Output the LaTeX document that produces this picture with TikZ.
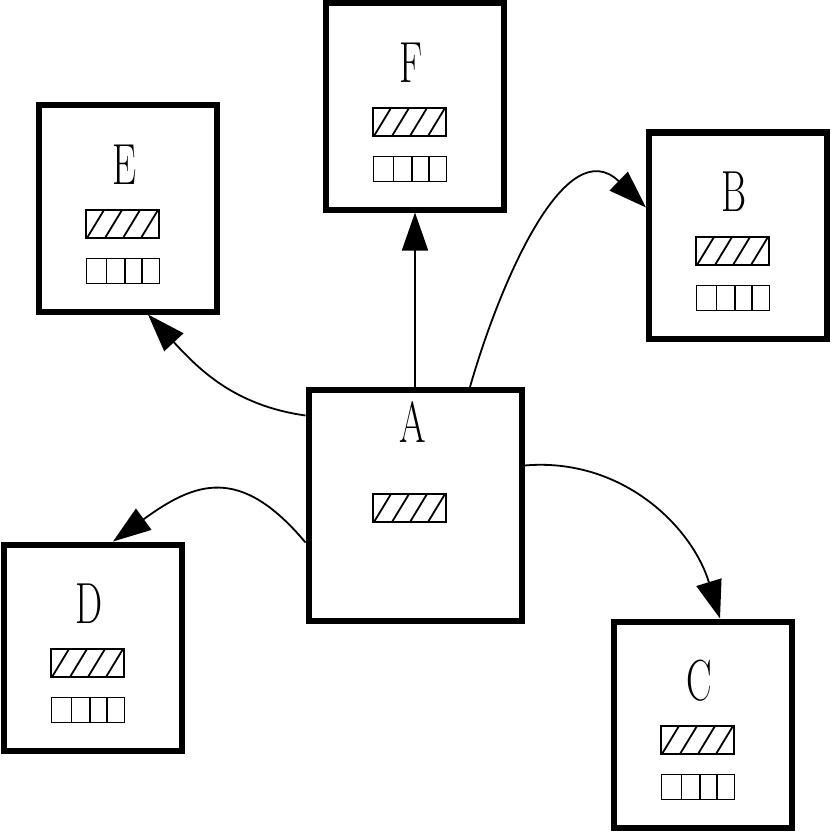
\documentclass[tikz,border=0pt]{standalone}
\usetikzlibrary{arrows.meta}
\tikzset{
	blk/.style={draw,rectangle,line width=6pt,inner sep=0pt,minimum width=178pt,minimum height=206pt},
	lbl/.style={inner sep=0pt,font=\fontsize{58}{60}\selectfont},
	link/.style={line width=1.8pt,-{Triangle[length=38pt,width=26pt]}},
	hatchbar/.pic={
		\draw[line width=1.8pt] (-36.5,-14) rectangle (36.5,14);
		\foreach \i in {0,1,2,3}{% four slanted strokes
			\draw[line width=1.8pt] (-35.5+18*\i,-14) -- (-18.5+18*\i,14);
		}
	},
	cellbar/.pic={
		\draw[line width=1.8pt] (-36.5,-12.5) rectangle (36.5,12.5);
		\foreach \d in {20,38.5,55.5}{% cell walls
			\draw[line width=1.8pt] (-36.5+\d,-12.5) -- (-36.5+\d,12.5);
		}
	}
}
\begin{document}
\begin{tikzpicture}[x=1pt,y=1pt]
	\useasboundingbox (0,0) rectangle (831,-832);
	
	% the boxes
	\node[blk,minimum width=213pt,minimum height=231pt] (A) at (415,-505.5) {};
	\node[blk] (B) at (738,-235.5) {};
	\node[blk] (C) at (703,-724.5) {};
	\node[blk] (D) at (93,-647.5) {};
	\node[blk] (E) at (128,-208.5) {};
	\node[blk] (F) at (415,-106.5) {};
	
	% A has only the hatched bar
	\node[lbl] (Alabel) at ([xshift=-2pt,yshift=83.5pt]A.center) {\scalebox{0.66}[1]{A}};
	\pic at ([xshift=-5.5pt,yshift=-2.5pt]A.center) {hatchbar};
	
	\foreach \n in {B,C,D,E,F}{% letter, hatched bar, cell bar
		\node[lbl] (\n label) at ([xshift=-3.5pt,yshift=43.5pt]\n.center) {\scalebox{0.66}[1]{\n}};
		\pic at ([xshift=-5.5pt,yshift=-15.5pt]\n.center) {hatchbar};
		\pic at ([xshift=-5pt,yshift=-62.5pt]\n.center) {cellbar};
	}
	
	% links out of A
	\draw [link] (A.north) -- (F.south);
	
	\draw [link] ([xshift=55pt]A.north)
	to[out=74,in=136,looseness=1.13] ([yshift=28pt]B.west);
	
	\draw [link] ([yshift=40pt]A.east)
	to[out=5,in=107] ([xshift=17pt]C.north);
	
	\draw [link] ([yshift=90pt]A.west)
	to[out=172,in=313] ([xshift=20pt]E.south);
	
	\draw [link] ([yshift=-37pt]A.west)
	to[out=130,in=36,looseness=1.35] ([xshift=20pt]D.north);
	
\end{tikzpicture}
\end{document}
